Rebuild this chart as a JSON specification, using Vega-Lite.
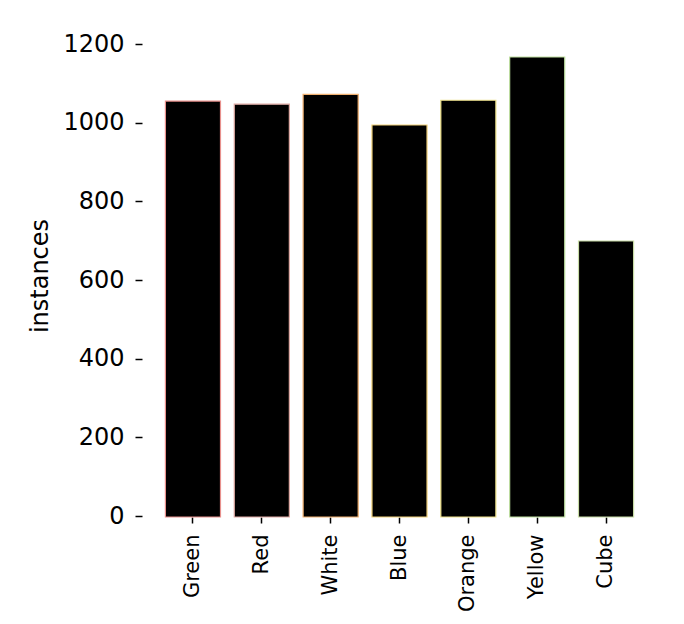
{
  "$schema": "https://vega.github.io/schema/vega-lite/v6.json",
  "autosize": {"type": "none"},
  "padding": {"left": 142, "top": 34, "right": 27, "bottom": 107},
  "width": 515,
  "height": 483,
  "background": "white",
  "config": {
    "view": {"stroke": null},
    "font": "DejaVu Sans"
  },
  "data": {
    "values": [
      {"label": "Green", "instances": 1058, "edge": "#e8908c"},
      {"label": "Red", "instances": 1050, "edge": "#e0aaa4"},
      {"label": "White", "instances": 1075, "edge": "#f0b070"},
      {"label": "Blue", "instances": 997, "edge": "#f2d27a"},
      {"label": "Orange", "instances": 1060, "edge": "#efe28a"},
      {"label": "Yellow", "instances": 1170, "edge": "#bfe0a0"},
      {"label": "Cube", "instances": 702, "edge": "#c8dca6"}
    ]
  },
  "mark": {"type": "bar", "color": "black", "strokeWidth": 1.2},
  "encoding": {
    "x": {
      "field": "label",
      "type": "nominal",
      "sort": null,
      "scale": {"paddingInner": 0.2, "paddingOuter": 0.34},
      "axis": {
        "title": null,
        "labelAngle": -90,
        "labelAlign": "right",
        "labelBaseline": "middle",
        "labelFontSize": 21,
        "labelColor": "black",
        "labelPadding": 11,
        "domain": false,
        "tickSize": 6,
        "tickColor": "black",
        "tickWidth": 1.5
      }
    },
    "y": {
      "field": "instances",
      "type": "quantitative",
      "scale": {"domain": [0, 1228.5], "nice": false},
      "axis": {
        "title": "instances",
        "titleFontSize": 24,
        "titleFontWeight": "normal",
        "titleColor": "black",
        "titlePadding": 10,
        "values": [0, 200, 400, 600, 800, 1000, 1200],
        "format": "d",
        "labelFontSize": 24,
        "labelColor": "black",
        "labelPadding": 11,
        "domain": false,
        "grid": false,
        "tickSize": 7,
        "tickOffset": -1,
        "tickColor": "black",
        "tickWidth": 1.5
      }
    },
    "stroke": {"field": "edge", "type": "nominal", "scale": null, "legend": null}
  }
}
